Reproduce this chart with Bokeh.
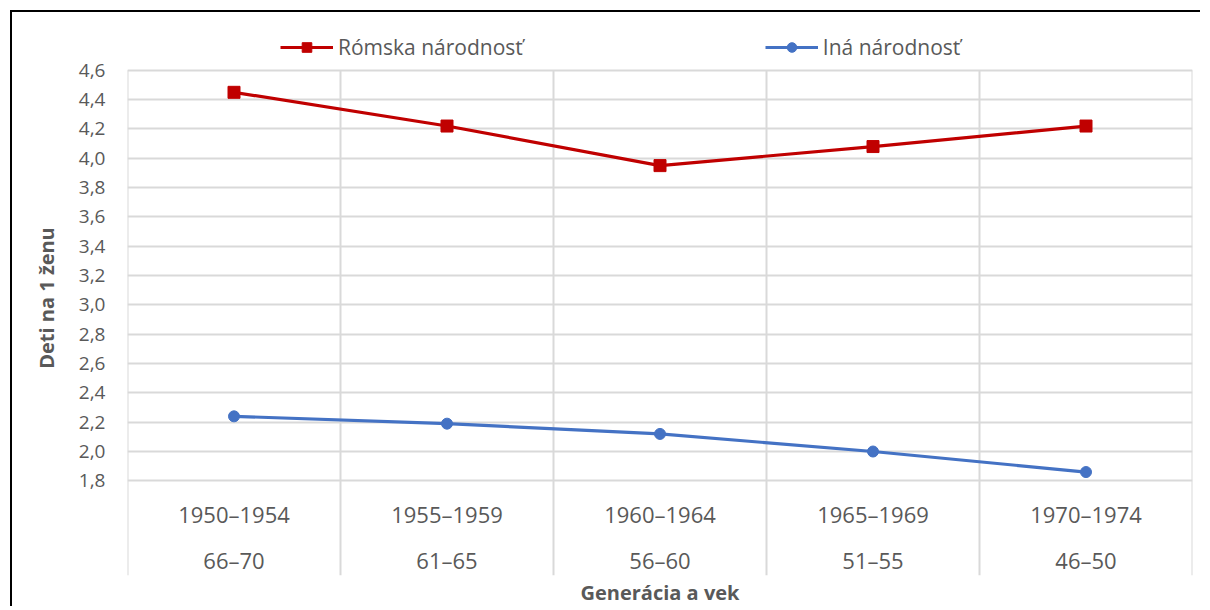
from bokeh.plotting import figure
from bokeh.models import Range1d, FixedTicker, Legend, LegendItem
from bokeh.core.properties import value
from bokeh.embed import file_html
from bokeh.resources import INLINE

generations = ["1950–1954", "1955–1959", "1960–1964", "1965–1969", "1970–1974"]
ages = ["66–70", "61–65", "56–60", "51–55", "46–50"]
romska = [4.45, 4.22, 3.95, 4.08, 4.22]
ina = [2.24, 2.19, 2.12, 2.00, 1.86]
y_ticks = [1.8, 2.0, 2.2, 2.4, 2.6, 2.8, 3.0, 3.2, 3.4, 3.6, 3.8, 4.0, 4.2, 4.4, 4.6]
y_labels = ["1,8", "2,0", "2,2", "2,4", "2,6", "2,8", "3,0", "3,2", "3,4", "3,6", "3,8", "4,0", "4,2", "4,4", "4,6"]

FONT = "Open Sans"
TXT = "#595959"
RED = "#C00000"
BLUE = "#4472C4"
GRID = "#D9D9D9"

n = len(generations)
xs = [i + 0.5 for i in range(n)]

# frame: legend band (50px) above data area (412px for 2.8 units), category band (95px) below
y_lo, y_hi = y_ticks[0], y_ticks[-1]
ppu = 412 / (y_hi - y_lo)
y_bottom = y_lo - 95 / ppu
y_top = y_hi + 50 / ppu
row1 = y_lo - 33 / ppu
row2 = y_lo - 79 / ppu

p = figure(width=1190, height=596, output_backend="svg", toolbar_location=None,
           x_range=Range1d(0, n), y_range=Range1d(y_bottom, y_top),
           min_border_left=115, min_border_right=10, min_border_top=8, min_border_bottom=31)
p.styles = {"border-left": "2px solid #000", "border-top": "2px solid #000",
            "margin-left": "10px", "margin-top": "10px"}
p.outline_line_color = None
p.background_fill_color = "white"
p.border_fill_color = "white"

# grids
p.ygrid.ticker = FixedTicker(ticks=y_ticks)
p.ygrid.grid_line_color = GRID
p.ygrid.grid_line_width = 2
p.xgrid.grid_line_color = None
bounds = list(range(n + 1))
p.segment(x0=bounds, y0=[y_bottom] * len(bounds), x1=bounds, y1=[y_hi] * len(bounds),
          line_color=GRID, line_width=2)

# y axis
ya = p.yaxis[0]
ya.ticker = FixedTicker(ticks=y_ticks)
ya.major_label_overrides = {t: l for t, l in zip(y_ticks, y_labels)}
ya.axis_line_color = None
ya.major_tick_line_color = None
ya.minor_tick_line_color = None
ya.major_tick_out = 0
ya.major_label_standoff = 22
ya.major_label_text_font = FONT
ya.major_label_text_font_size = "19px"
ya.major_label_text_color = TXT
ya.axis_label = "Deti na 1 ženu"
ya.axis_label_text_font = FONT
ya.axis_label_text_font_style = "bold"
ya.axis_label_text_font_size = "20px"
ya.axis_label_text_color = TXT
ya.axis_label_standoff = 16

# x axis (title only)
xa = p.xaxis[0]
xa.ticker = FixedTicker(ticks=[])
xa.axis_line_color = None
xa.major_tick_line_color = None
xa.minor_tick_line_color = None
xa.major_tick_out = 0
xa.major_label_standoff = 0
xa.axis_label = "Generácia a vek"
xa.axis_label_text_font = FONT
xa.axis_label_text_font_style = "bold"
xa.axis_label_text_font_size = "20px"
xa.axis_label_text_color = TXT
xa.axis_label_standoff = 3

# category labels
p.text(x=xs, y=[row1] * n, text=generations, text_align="center", text_baseline="middle",
       text_font=value(FONT), text_font_size="22px", text_color=TXT)
p.text(x=xs, y=[row2] * n, text=ages, text_align="center", text_baseline="middle",
       text_font=value(FONT), text_font_size="22px", text_color=TXT)

# series
r1l = p.line(xs, romska, line_color=RED, line_width=3.2)
r1m = p.scatter(xs, romska, marker="square", size=12, fill_color=RED, line_color=RED)
r2l = p.line(xs, ina, line_color=BLUE, line_width=3.2)
r2m = p.scatter(xs, ina, marker="circle", size=11, fill_color=BLUE, line_color=BLUE)

legend = Legend(items=[LegendItem(label="Rómska národnosť", renderers=[r1l, r1m]),
                       LegendItem(label="Iná národnosť", renderers=[r2l, r2m])],
                orientation="horizontal", location=(153, 514), spacing=242,
                glyph_width=53, glyph_height=24, label_standoff=5, label_height=24,
                label_text_font=FONT, label_text_font_size="21px", label_text_color=TXT,
                border_line_color=None, background_fill_alpha=0, padding=0, margin=0)
p.add_layout(legend, "center")

open("out.html", "w").write(file_html(p, INLINE))
